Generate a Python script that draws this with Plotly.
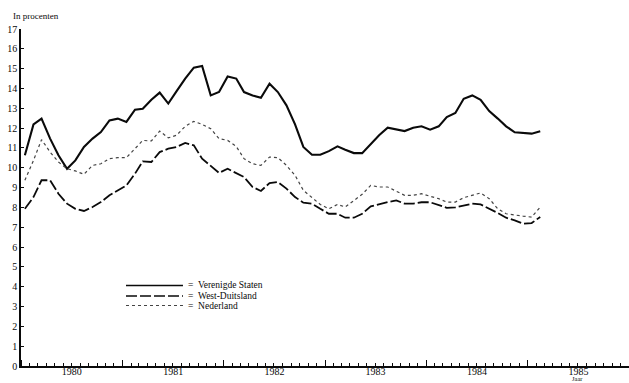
import pandas as pd
import plotly.graph_objects as go

# Monthly observations, January 1980 - February 1985 (mid-month)
months = pd.date_range("1980-01-01", periods=62, freq="MS") + pd.Timedelta(days=14)

verenigde_staten = [10.63, 12.19, 12.48, 11.47, 10.63, 9.95, 10.37, 11.05, 11.47, 11.80,
                    12.39, 12.48, 12.31, 12.93, 12.98, 13.43, 13.79, 13.24, 13.87, 14.50,
                    15.05, 15.13, 13.65, 13.82, 14.61, 14.50, 13.82, 13.65, 13.53, 14.24,
                    13.82, 13.15, 12.19, 11.05, 10.66, 10.66, 10.84, 11.08, 10.91, 10.74,
                    10.74, 11.22, 11.64, 12.02, 11.92, 11.85, 12.02, 12.09, 11.92, 12.09,
                    12.56, 12.76, 13.48, 13.65, 13.43, 12.86, 12.48, 12.09, 11.79, 11.76,
                    11.72, 11.84]

west_duitsland = [7.93, 8.52, 9.37, 9.37, 8.69, 8.19, 7.93, 7.82, 8.02, 8.27,
                  8.61, 8.86, 9.11, 9.70, 10.32, 10.29, 10.79, 10.96, 11.05, 11.25,
                  11.13, 10.46, 10.07, 9.74, 9.95, 9.74, 9.53, 9.03, 8.83, 9.23,
                  9.28, 8.95, 8.52, 8.24, 8.19, 7.93, 7.68, 7.68, 7.48, 7.48,
                  7.68, 8.05, 8.17, 8.27, 8.35, 8.19, 8.19, 8.26, 8.26, 8.11,
                  7.98, 8.00, 8.09, 8.19, 8.15, 7.95, 7.72, 7.48, 7.35, 7.18,
                  7.21, 7.52]

nederland = [9.37, 10.37, 11.42, 10.79, 10.29, 9.95, 9.84, 9.67, 10.12, 10.20,
             10.46, 10.51, 10.51, 10.96, 11.38, 11.35, 11.85, 11.51, 11.64, 12.09,
             12.34, 12.19, 11.97, 11.47, 11.38, 11.08, 10.46, 10.20, 10.12, 10.54,
             10.51, 10.12, 9.62, 8.86, 8.52, 8.15, 7.93, 8.15, 8.02, 8.35,
             8.66, 9.11, 9.03, 9.03, 8.83, 8.61, 8.61, 8.69, 8.56, 8.44,
             8.27, 8.27, 8.49, 8.61, 8.73, 8.44, 7.93, 7.68, 7.60, 7.56,
             7.51, 8.02]

series_names = ["Verenigde Staten", "West-Duitsland", "Nederland"]
y_ticks = list(range(0, 18))

FONT = "Liberation Serif"
INK = "#0a0a0a"

styles = [
    dict(color=INK, width=2.1, dash="solid"),
    dict(color=INK, width=1.8, dash="11px,3px"),
    dict(color="#444444", width=1.2, dash="dot"),
]

fig = go.Figure()
for name, vals, st in zip(series_names, [verenigde_staten, west_duitsland, nederland], styles):
    fig.add_trace(go.Scatter(x=months, y=vals, mode="lines", name=name,
                             line=st, showlegend=False, hoverinfo="skip"))

# Legend drawn as key lines + text (compact spacing like the original)
leg_rows = [0.2389, 0.2077, 0.1795]
for name, st, yy in zip(series_names, styles, leg_rows):
    fig.add_shape(type="line", xref="paper", yref="paper",
                  x0=0.1727, x1=0.2664, y0=yy, y1=yy,
                  line=dict(color=st["color"], width=min(st["width"], 1.3), dash=st["dash"]))
    fig.add_annotation(xref="paper", yref="paper", x=0.272, y=yy,
                       xanchor="left", yanchor="middle", showarrow=False,
                       text="=  " + name, font=dict(family=FONT, size=9.5, color=INK))

fig.add_annotation(xref="paper", yref="paper", x=0, y=1.04, xshift=-10,
                   xanchor="left", yanchor="middle", showarrow=False,
                   text="In procenten", font=dict(family=FONT, size=9, color=INK))
fig.add_annotation(xref="x", yref="paper", x="1985-07-01", y=0,
                   xanchor="center", yanchor="bottom", yshift=-17.5, showarrow=False,
                   text="Jaar", font=dict(family=FONT, size=6.5, color=INK))

fig.update_xaxes(type="date", range=["1980-01-01", "1986-01-01"],
                 dtick="M12", tick0="1980-01-01", tickformat="%Y",
                 ticklabelmode="period", ticks="inside", ticklen=6,
                 ticklabelstandoff=-5,
                 tickcolor=INK, tickwidth=1,
                 minor=dict(dtick="M1", ticks="inside", ticklen=3, tickcolor=INK, showgrid=False),
                 showline=True, linecolor=INK, linewidth=1.5,
                 showgrid=False, zeroline=False,
                 tickfont=dict(family=FONT, size=10, color=INK))
fig.update_yaxes(range=[0, 17], tickvals=y_ticks, ticktext=[str(v) for v in y_ticks],
                 ticks="inside", ticklen=3, tickcolor=INK,
                 showline=True, linecolor=INK, linewidth=1.5,
                 showgrid=False, zeroline=False,
                 tickfont=dict(family=FONT, size=10, color=INK))

fig.update_layout(width=629, height=383,
                  margin=dict(l=21, r=0, t=29, b=17, pad=0),
                  plot_bgcolor="white", paper_bgcolor="white",
                  font=dict(family=FONT, color=INK))

# Remove the browser's default 8px body margin so the figure fills the window exactly
fig.write_html("out.html", config={"displayModeBar": False},
               post_script="document.body.style.margin='0';document.body.style.overflow='hidden';")
